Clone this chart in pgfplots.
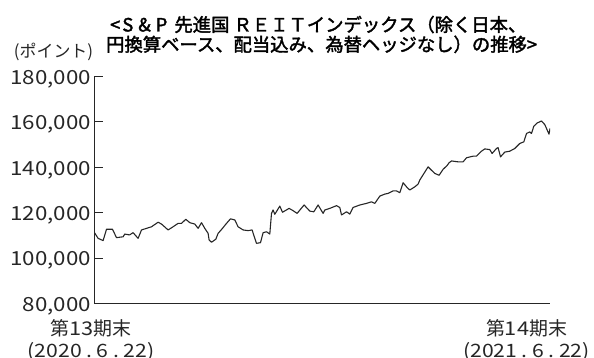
\documentclass[border=0pt]{standalone}
\usepackage{fontspec}
\usepackage{pgfplots}
\pgfplotsset{compat=1.18}
\setmainfont{Noto Sans CJK JP}
\newfontfamily\numfont{Noto Sans CJK JP}[FakeStretch=1.15]
\newfontfamily\titlefont{Noto Sans CJK JP}[FakeBold=2]
\newcommand\dt{\hspace{4.5bp}.\hspace{4.5bp}}
\begin{document}
\begin{tikzpicture}[x=1bp,y=1bp]
\path[use as bounding box] (0bp,0bp) rectangle (594bp,358bp);
\begin{axis}[
  at={(94.5bp,54.5bp)}, anchor=south west,
  scale only axis, width=455.5bp, height=227bp,
  xmin=0, xmax=455.5, ymin=80000, ymax=180000,
  axis x line*=bottom, axis y line*=left,
  axis line style={-, line width=1.1bp, color=black!85},
  xtick=\empty,
  ytick={80000,100000,120000,140000,160000,180000},
  yticklabels={{80,000},{100,000},{120,000},{140,000},{160,000},{180,000}},
  tick align=inside, major tick length=8bp,
  tick style={line width=1.1bp, color=black!85},
  scaled y ticks=false,
  ticklabel style={font=\numfont\fontsize{19.5}{21}\selectfont, color=black!85},
  yticklabel style={yshift=-2.5bp},
]
\addplot[line width=1.1bp, color=black!85, line join=round] table {
0 111200
3.6 108700
8.6 107700
12 112700
18 112700
22 109000
28.6 109400
30.3 110600
35 110200
38.6 111200
43.6 108700
47 112400
52 113100
57 113800
63.6 115800
67 115000
73.6 112400
78.6 113800
83.6 115300
87 115300
91.3 117100
95.3 115600
100.3 115000
103.6 113100
107 115600
110.3 113100
113.6 110900
114.6 108000
117 107000
121.3 108300
123.6 110900
128 113100
132 115300
136 117300
140.3 116800
143.6 113800
148.6 112400
153.6 112100
157.6 112400
160.3 108700
162 106500
166 106800
168.6 111200
172 111600
175.3 110600
177 119700
178.6 121200
180.3 119300
185.3 122900
188 120200
194.6 121900
198.6 120900
202.6 119700
209.6 123400
215.3 120700
219.3 120400
223.6 123400
228.6 119700
230.3 121200
235.3 121900
242 123100
245.3 122300
247 119000
252 120400
255.3 119400
258.6 122300
265.3 123400
272 124100
277 124800
280.3 124100
285.3 127300
290.3 128200
293.6 128500
298.6 129600
302 129600
305.3 128800
308.6 133200
312.6 131100
315.3 130000
320.3 131400
323.6 132600
325.3 134400
333.6 140200
337 138700
340.3 137300
344.6 136500
348.6 139100
352.6 140800
354.6 142000
357 142800
363.6 142400
368.6 142400
372 144200
378.6 144900
382 144900
387 147100
390.3 148100
395.3 147800
397.6 146100
402 148300
403.6 148700
406 144600
410.3 146700
415.3 147100
420.3 148300
425.3 150500
429.3 151200
432 154900
435.3 155600
437 154900
439.3 158100
442.6 159500
447 160400
450.3 158800
452 157100
454.5 154600
455.5 157100
};
\draw[line width=1.1bp, color=black!85] (rel axis cs:1,0) -- ++(0,5.5bp);
\end{axis}
\node[anchor=base east, inner sep=0pt, font=\fontsize{17}{18}\selectfont, color=black!85] at (93.3bp,300bp) {(ポイント)};
\node[anchor=base west, inner sep=0pt, font=\titlefont\fontsize{18.4}{21}\selectfont] at (110bp,326.5bp) {<\hspace{2bp}S\hspace{5bp}\&\hspace{5bp}P\hspace{3bp} 先進国 ＲＥＩＴインデックス（除く日本、};
\node[anchor=base west, inner sep=0pt, font=\titlefont\fontsize{18.4}{21}\selectfont] at (106bp,306.7bp) {円換算ベース、配当込み、為替ヘッジなし）の推移>};
\node[anchor=base, inner sep=0pt, font=\fontsize{19}{20}\selectfont, color=black!85] at (91bp,23bp) {第{\numfont 13}期末};
\node[anchor=base, inner sep=0pt, font=\numfont\fontsize{18.5}{20}\selectfont, color=black!85] at (91bp,1bp) {(2020\dt 6\dt 22)};
\node[anchor=base, inner sep=0pt, font=\fontsize{19}{20}\selectfont, color=black!85] at (526.5bp,23bp) {第{\numfont 14}期末};
\node[anchor=base, inner sep=0pt, font=\numfont\fontsize{18.5}{20}\selectfont, color=black!85] at (526.5bp,1bp) {(2021\dt 6\dt 22)};
\end{tikzpicture}
\end{document}
